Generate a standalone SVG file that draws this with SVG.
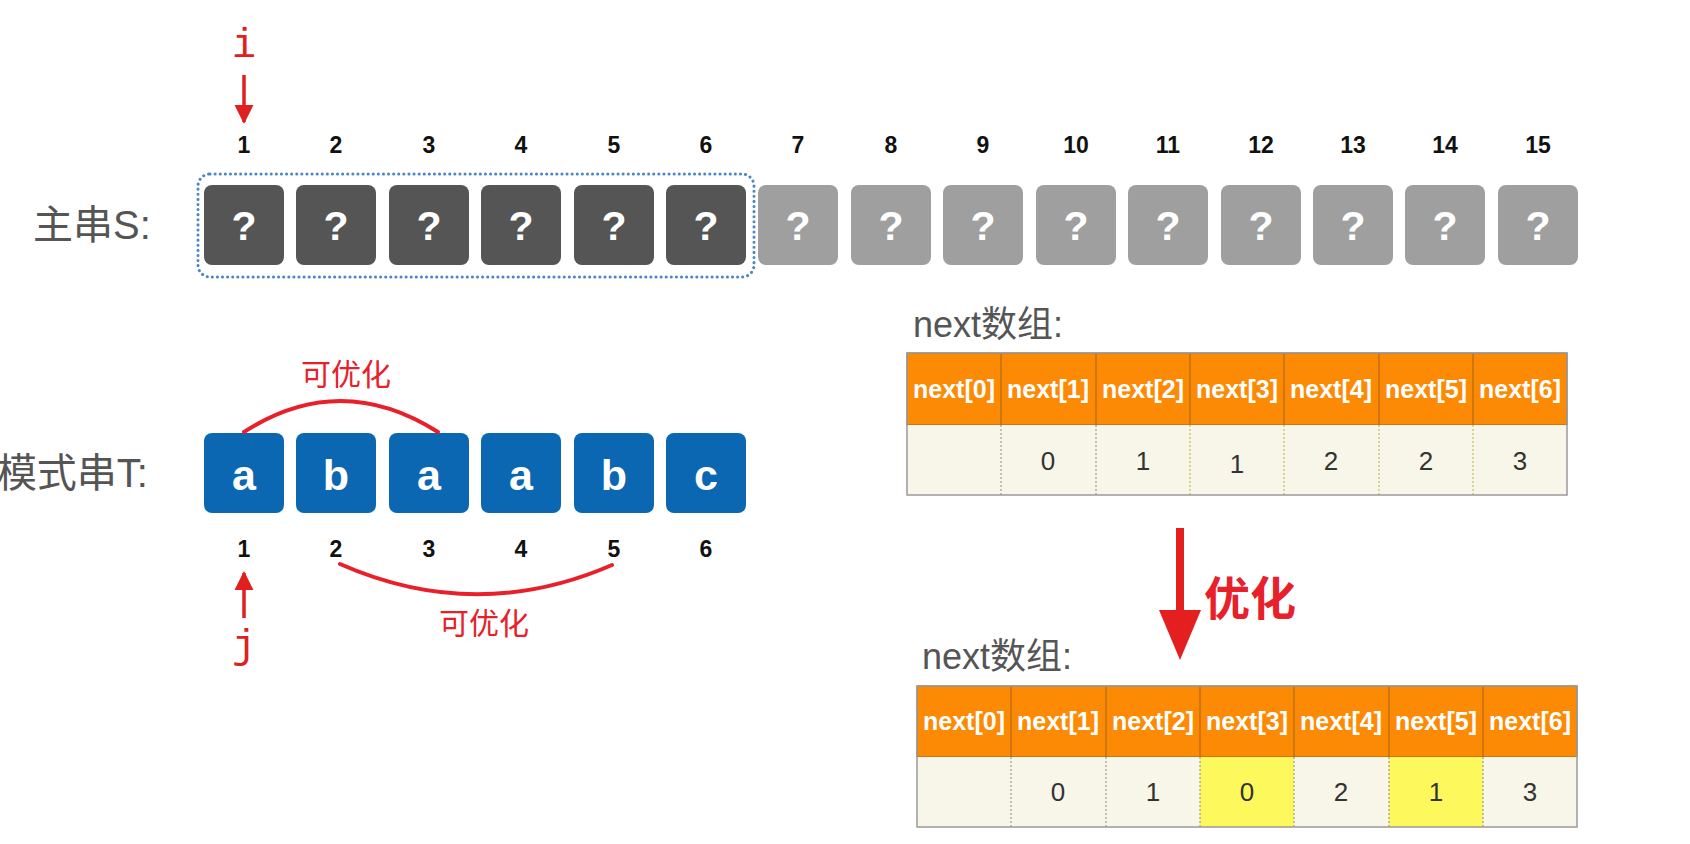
<svg xmlns="http://www.w3.org/2000/svg" width="1690" height="844" viewBox="0 0 1690 844">
<defs>
<style>
.num{font-family:"Liberation Sans",Arial,sans-serif;font-size:23px;font-weight:bold;fill:#111;text-anchor:middle}
.q{font-family:"Liberation Sans",Arial,sans-serif;font-size:41px;font-weight:bold;fill:#fff;text-anchor:middle}
.ch{font-family:"Liberation Sans",Arial,sans-serif;font-size:43px;font-weight:bold;fill:#fff;text-anchor:middle}
.dark{fill:#555555}
.light{fill:#9f9f9f}
.blue{fill:#0b67b1}
.lbl{font-family:"Liberation Sans","Noto Sans CJK SC",sans-serif;font-size:40px;fill:#555}
.ttl{font-family:"Liberation Sans","Noto Sans CJK SC",sans-serif;font-size:36px;fill:#555}
.red{font-family:"Liberation Sans","Noto Sans CJK SC",sans-serif;font-size:30px;fill:#e8202a;text-anchor:middle}
.ij{font-family:"Liberation Mono","Courier New",monospace;font-size:40px;fill:#e02020;text-anchor:middle}
.hd{fill:#fd8a05;stroke:#a0621a;stroke-width:1}
.bd{fill:#f8f6e9}
.hy{fill:#fdf95c}
.ht{font-family:"Liberation Sans",Arial,sans-serif;font-size:25px;font-weight:bold;fill:#fff;text-anchor:middle}
.bt{font-family:"Liberation Sans",Arial,sans-serif;font-size:26px;fill:#333;text-anchor:middle}
.dv{stroke:#888;stroke-width:1;stroke-dasharray:2 2}
.dvy{stroke:#b9b040;stroke-width:1;stroke-dasharray:2 2}
.frame{fill:none;stroke:#9a9a9a;stroke-width:1.5}
.arc{fill:none;stroke:#e8202a;stroke-width:4;stroke-linecap:round}
</style>
<marker id="ah" viewBox="0 0 10 10" refX="9" refY="5" markerWidth="5.5" markerHeight="5.5" orient="auto" markerUnits="strokeWidth">
<path d="M0,0 L10,5 L0,10 z" fill="#e02020"/>
</marker>
</defs>
<rect width="1690" height="844" fill="#fff"/>

<!-- labels -->
<g id="label-S"><text class="lbl" x="33" y="239">主串S:</text></g>
<g id="label-T"><text class="lbl" x="148" y="487" text-anchor="end">模式串T:</text></g>

<!-- main string numbers -->
<g id="s-numbers">
<text class="num" x="244" y="153">1</text>
<text class="num" x="336" y="153">2</text>
<text class="num" x="429" y="153">3</text>
<text class="num" x="521" y="153">4</text>
<text class="num" x="614" y="153">5</text>
<text class="num" x="706" y="153">6</text>
<text class="num" x="798" y="153">7</text>
<text class="num" x="891" y="153">8</text>
<text class="num" x="983" y="153">9</text>
<text class="num" x="1076" y="153">10</text>
<text class="num" x="1168" y="153">11</text>
<text class="num" x="1261" y="153">12</text>
<text class="num" x="1353" y="153">13</text>
<text class="num" x="1445" y="153">14</text>
<text class="num" x="1538" y="153">15</text>
</g>

<!-- main string boxes -->
<g id="s-boxes">
<g id="s1"><rect class="dark" x="204" y="185" width="80" height="80" rx="8"/><text class="q" x="244" y="240">?</text></g>
<g id="s2"><rect class="dark" x="296" y="185" width="80" height="80" rx="8"/><text class="q" x="336" y="240">?</text></g>
<g id="s3"><rect class="dark" x="389" y="185" width="80" height="80" rx="8"/><text class="q" x="429" y="240">?</text></g>
<g id="s4"><rect class="dark" x="481" y="185" width="80" height="80" rx="8"/><text class="q" x="521" y="240">?</text></g>
<g id="s5"><rect class="dark" x="574" y="185" width="80" height="80" rx="8"/><text class="q" x="614" y="240">?</text></g>
<g id="s6"><rect class="dark" x="666" y="185" width="80" height="80" rx="8"/><text class="q" x="706" y="240">?</text></g>
<g id="s7"><rect class="light" x="758" y="185" width="80" height="80" rx="8"/><text class="q" x="798" y="240">?</text></g>
<g id="s8"><rect class="light" x="851" y="185" width="80" height="80" rx="8"/><text class="q" x="891" y="240">?</text></g>
<g id="s9"><rect class="light" x="943" y="185" width="80" height="80" rx="8"/><text class="q" x="983" y="240">?</text></g>
<g id="s10"><rect class="light" x="1036" y="185" width="80" height="80" rx="8"/><text class="q" x="1076" y="240">?</text></g>
<g id="s11"><rect class="light" x="1128" y="185" width="80" height="80" rx="8"/><text class="q" x="1168" y="240">?</text></g>
<g id="s12"><rect class="light" x="1221" y="185" width="80" height="80" rx="8"/><text class="q" x="1261" y="240">?</text></g>
<g id="s13"><rect class="light" x="1313" y="185" width="80" height="80" rx="8"/><text class="q" x="1353" y="240">?</text></g>
<g id="s14"><rect class="light" x="1405" y="185" width="80" height="80" rx="8"/><text class="q" x="1445" y="240">?</text></g>
<g id="s15"><rect class="light" x="1498" y="185" width="80" height="80" rx="8"/><text class="q" x="1538" y="240">?</text></g>
</g>
<g id="window"><rect x="198" y="174" width="556" height="103" rx="12" fill="none" stroke="#4a86c8" stroke-width="3" stroke-dasharray="0.1 5" stroke-linecap="round"/></g>

<!-- pattern boxes -->
<g id="t-boxes">
<g id="t1"><rect class="blue" x="204" y="433" width="80" height="80" rx="8"/><text class="ch" x="244" y="490">a</text></g>
<g id="t2"><rect class="blue" x="296" y="433" width="80" height="80" rx="8"/><text class="ch" x="336" y="490">b</text></g>
<g id="t3"><rect class="blue" x="389" y="433" width="80" height="80" rx="8"/><text class="ch" x="429" y="490">a</text></g>
<g id="t4"><rect class="blue" x="481" y="433" width="80" height="80" rx="8"/><text class="ch" x="521" y="490">a</text></g>
<g id="t5"><rect class="blue" x="574" y="433" width="80" height="80" rx="8"/><text class="ch" x="614" y="490">b</text></g>
<g id="t6"><rect class="blue" x="666" y="433" width="80" height="80" rx="8"/><text class="ch" x="706" y="490">c</text></g>
</g>
<g id="t-numbers">
<text class="num" x="244" y="557">1</text>
<text class="num" x="336" y="557">2</text>
<text class="num" x="429" y="557">3</text>
<text class="num" x="521" y="557">4</text>
<text class="num" x="614" y="557">5</text>
<text class="num" x="706" y="557">6</text>
</g>

<g id="i-label"><text class="ij" x="244" y="57">i</text></g>
<g id="j-label"><text class="ij" x="244" y="658">j</text></g>
<g id="arc-label-top"><text class="red" x="346" y="385">可优化</text></g>
<g id="arc-label-bottom"><text class="red" x="484" y="634">可优化</text></g>

<!-- connectors -->
<g id="connectors">
<line x1="244" y1="75" x2="244" y2="122" stroke="#e02020" stroke-width="3.5" marker-end="url(#ah)"/>
<line x1="244" y1="618" x2="244" y2="573" stroke="#e02020" stroke-width="3.5" marker-end="url(#ah)"/>
<path class="arc" d="M244,432 Q340,370 438,432"/>
<path class="arc" d="M340,564 Q476,624 612,565"/>
<line x1="1180" y1="528" x2="1180" y2="614" stroke="#e41f1f" stroke-width="8"/>
<polygon points="1159,610 1201,610 1180,660" fill="#e41f1f"/>
</g>
<g id="opt-label"><text x="1204" y="615" font-family="'Liberation Sans','Noto Sans CJK SC',sans-serif" font-size="46" font-weight="bold" fill="#e8202a">优化</text></g>

<!-- table 1 -->
<g id="next-title-1"><text class="ttl" x="913" y="337">next数组:</text></g>
<g id="table-1">
<rect class="hd" x="907" y="353" width="660" height="72"/>
<rect class="bd" x="907" y="425" width="660" height="70"/>
<g stroke="#a0621a" stroke-width="1">
<line x1="1001" y1="353" x2="1001" y2="425"/><line x1="1096" y1="353" x2="1096" y2="425"/><line x1="1190" y1="353" x2="1190" y2="425"/>
<line x1="1284" y1="353" x2="1284" y2="425"/><line x1="1379" y1="353" x2="1379" y2="425"/><line x1="1473" y1="353" x2="1473" y2="425"/>
</g>
<line class="dv" x1="1001" y1="425" x2="1001" y2="495"/><line class="dv" x1="1096" y1="425" x2="1096" y2="495"/>
<line class="dvy" x1="1190" y1="425" x2="1190" y2="495"/><line class="dvy" x1="1284" y1="425" x2="1284" y2="495"/>
<line class="dvy" x1="1379" y1="425" x2="1379" y2="495"/><line class="dvy" x1="1473" y1="425" x2="1473" y2="495"/>
<rect class="frame" x="907" y="353" width="660" height="142"/>
<text class="ht" x="954" y="398">next[0]</text><text class="ht" x="1048" y="398">next[1]</text><text class="ht" x="1143" y="398">next[2]</text>
<text class="ht" x="1237" y="398">next[3]</text><text class="ht" x="1331" y="398">next[4]</text><text class="ht" x="1426" y="398">next[5]</text><text class="ht" x="1520" y="398">next[6]</text>
<text class="bt" x="1048" y="470">0</text><text class="bt" x="1143" y="470">1</text><text class="bt" x="1237" y="473">1</text>
<text class="bt" x="1331" y="470">2</text><text class="bt" x="1426" y="470">2</text><text class="bt" x="1520" y="470">3</text>
</g>

<!-- table 2 -->
<g id="next-title-2"><text class="ttl" x="922" y="669">next数组:</text></g>
<g id="table-2">
<rect class="hd" x="917" y="686" width="660" height="71"/>
<rect class="bd" x="917" y="757" width="660" height="70"/>
<rect class="hy" x="1200" y="757" width="94" height="70"/>
<rect class="hy" x="1389" y="757" width="94" height="70"/>
<g stroke="#a0621a" stroke-width="1">
<line x1="1011" y1="686" x2="1011" y2="757"/><line x1="1106" y1="686" x2="1106" y2="757"/><line x1="1200" y1="686" x2="1200" y2="757"/>
<line x1="1294" y1="686" x2="1294" y2="757"/><line x1="1389" y1="686" x2="1389" y2="757"/><line x1="1483" y1="686" x2="1483" y2="757"/>
</g>
<line class="dv" x1="1011" y1="757" x2="1011" y2="827"/><line class="dv" x1="1106" y1="757" x2="1106" y2="827"/>
<line class="dv" x1="1200" y1="757" x2="1200" y2="827"/><line class="dv" x1="1294" y1="757" x2="1294" y2="827"/>
<line class="dv" x1="1389" y1="757" x2="1389" y2="827"/><line class="dv" x1="1483" y1="757" x2="1483" y2="827"/>
<rect class="frame" x="917" y="686" width="660" height="141"/>
<text class="ht" x="964" y="730">next[0]</text><text class="ht" x="1058" y="730">next[1]</text><text class="ht" x="1153" y="730">next[2]</text>
<text class="ht" x="1247" y="730">next[3]</text><text class="ht" x="1341" y="730">next[4]</text><text class="ht" x="1436" y="730">next[5]</text><text class="ht" x="1530" y="730">next[6]</text>
<text class="bt" x="1058" y="801">0</text><text class="bt" x="1153" y="801">1</text><text class="bt" x="1247" y="801">0</text>
<text class="bt" x="1341" y="801">2</text><text class="bt" x="1436" y="801">1</text><text class="bt" x="1530" y="801">3</text>
</g>
</svg>
